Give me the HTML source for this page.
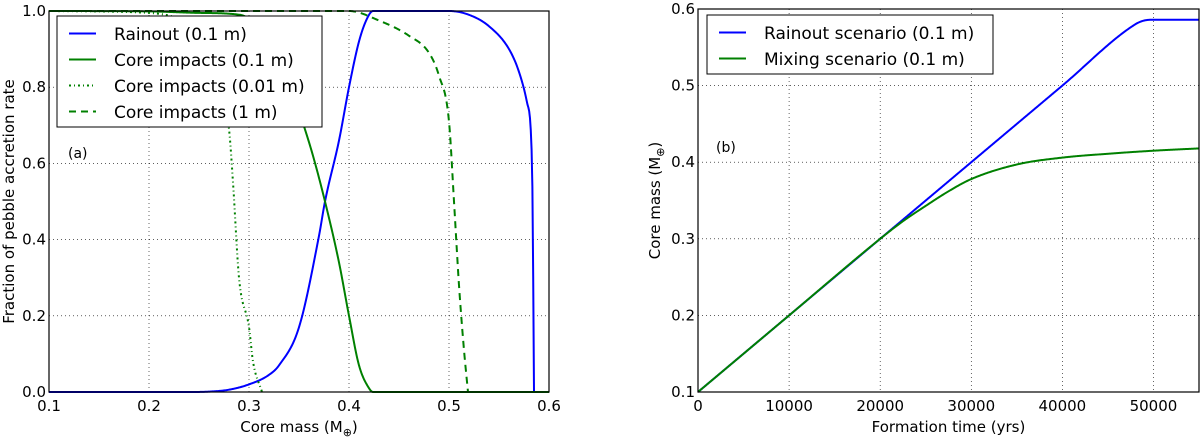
<!DOCTYPE html>
<html><head><meta charset="utf-8"><style>
body{margin:0;background:#fff;}
svg{display:block;font-family:"DejaVu Sans","Liberation Sans",sans-serif;}
</style></head><body>
<svg id="c" width="1200" height="440" viewBox="0 0 1200 440" xmlns="http://www.w3.org/2000/svg"></svg>
<script>
// ---- Panel (a) data ----
const aXTicks=[0.1,0.2,0.3,0.4,0.5,0.6];
const aYTicks=[0.0,0.2,0.4,0.6,0.8,1.0];
const rainX=[0.1,0.24,0.26,0.28,0.3,0.32,0.33,0.35,0.37,0.376,0.39,0.4,0.41,0.418,0.424,0.5,0.52,0.54,0.56,0.57,0.578,0.583,0.5845,0.585];
const rainY=[0,0,0.001,0.006,0.02,0.045,0.07,0.17,0.41,0.5,0.66,0.8,0.92,0.98,1.0,1.0,0.99,0.96,0.9,0.84,0.76,0.6,0.2,0];
const core01X=[0.1,0.2,0.25,0.291,0.31,0.33,0.34,0.35,0.364,0.376,0.39,0.4,0.41,0.42,0.424,0.6];
const core01Y=[1,0.999,0.995,0.99,0.96,0.9,0.83,0.74,0.62,0.5,0.34,0.2,0.07,0.01,0,0];
const core001X=[0.1,0.2,0.23,0.25,0.26,0.27,0.28,0.284,0.29,0.3,0.304,0.313];
const core001Y=[1,0.995,0.98,0.95,0.9,0.8,0.69,0.55,0.3,0.17,0.08,0];
const core1X=[0.1,0.4,0.43,0.46,0.48,0.49,0.5,0.505,0.51,0.515,0.519];
const core1Y=[1,1,0.975,0.935,0.89,0.83,0.71,0.5,0.28,0.11,0];
// ---- Panel (b) data ----
const bXTicks=[0,10000,20000,30000,40000,50000];
const bYTicks=[0.1,0.2,0.3,0.4,0.5,0.6];
const rainBX=[0,10000,20000,30000,40000,48000,49000,50000,51000,55000];
const rainBY=[0.1,0.2,0.3,0.4,0.5,0.58,0.585,0.586,0.586,0.586];
const mixBX=[0,10000,20000,22500,25000,27500,30000,35000,40000,45000,50000,55000];
const mixBY=[0.1,0.2,0.3,0.323,0.343,0.362,0.378,0.397,0.406,0.411,0.415,0.418];

const NS="http://www.w3.org/2000/svg";
const svg=document.getElementById('c');
function el(t,a,p){const e=document.createElementNS(NS,t);for(const k in a)e.setAttribute(k,a[k]);(p||svg).appendChild(e);return e;}

// monotone cubic interpolation (Fritsch-Carlson)
function mono(xs,ys){
  const n=xs.length,d=[],m=new Array(n);
  for(let i=0;i<n-1;i++)d.push((ys[i+1]-ys[i])/(xs[i+1]-xs[i]));
  m[0]=d[0];m[n-1]=d[n-2];
  for(let i=1;i<n-1;i++){m[i]=(d[i-1]*d[i]<=0)?0:(d[i-1]+d[i])/2;}
  for(let i=0;i<n-1;i++){if(d[i]===0){m[i]=0;m[i+1]=0;continue;}
    const a=m[i]/d[i],b=m[i+1]/d[i],s=a*a+b*b;if(s>9){const t=3/Math.sqrt(s);m[i]=t*a*d[i];m[i+1]=t*b*d[i];}}
  return x=>{let i=0;while(i<n-2&&x>xs[i+1])i++;
    const h=xs[i+1]-xs[i],t=(x-xs[i])/h,t2=t*t,t3=t2*t;
    return (2*t3-3*t2+1)*ys[i]+(t3-2*t2+t)*h*m[i]+(-2*t3+3*t2)*ys[i+1]+(t3-t2)*h*m[i+1];};
}

function panel(o){
  const g=el('g',{});
  
  
  const sx=v=>o.x0+(v-o.xmin)/(o.xmax-o.xmin)*(o.x1-o.x0);
  const sy=v=>o.y0+(v-o.ymin)/(o.ymax-o.ymin)*(o.y1-o.y0);
  o.xt.forEach(t=>{const x=sx(t);
    const l=el('line',{x1:x,x2:x,y1:o.y1,y2:o.y0,stroke:'#000','stroke-width':0.6,'stroke-dasharray':'1,3'},g);
    
    const tx=el('text',{x:x,y:o.y0+19,'font-size':15,'text-anchor':'middle'},g);tx.textContent=o.xfmt(t);
    
  });
  o.yt.forEach(t=>{const y=sy(t);
    const l=el('line',{x1:o.x0,x2:o.x1,y1:y,y2:y,stroke:'#000','stroke-width':0.6,'stroke-dasharray':'1,3'},g);
    
    const tx=el('text',{x:o.x0-3,y:y+5,'font-size':15,'text-anchor':'end'},g);tx.textContent=t.toFixed(1);
    
  });
  o.series.forEach(s=>{
    const f=mono(s.x,s.y);const pts=[];
    const xa=s.x[0],xb=s.x[s.x.length-1],N=600;
    for(let k=0;k<=N;k++){const xv=xa+(xb-xa)*k/N;pts.push([xv,f(xv)]);}
    const d=pts.map((p,i)=>(i?'L':'M')+sx(p[0]).toFixed(2)+','+sy(p[1]).toFixed(2)).join('');
    const p=el('path',{d:d,fill:'none',stroke:s.c,'stroke-width':2,'stroke-dasharray':s.dash||'none','stroke-linejoin':'round'},g);
    
  });
  const fr=el('rect',{x:o.x0,y:o.y1,width:o.x1-o.x0,height:o.y0-o.y1,fill:'none',stroke:'#000','stroke-width':1.2},g);
  
  const L=o.leg;
  const lg=el('g',{},g);
  
  el('rect',{x:L.x,y:L.y,width:L.w,height:L.h,fill:'#fff',stroke:'#000','stroke-width':1},lg);
  o.series.forEach((s,i)=>{const y=L.y+17+i*26;
    el('line',{x1:L.x+12,x2:L.x+39,y1:y+0.5,y2:y+0.5,stroke:s.c,'stroke-width':2,'stroke-dasharray':s.dash||'none'},lg);
    const t=el('text',{x:L.x+57,y:y+7,'font-size':17},lg);t.textContent=s.label;
    
  });
  const pl=el('text',{x:o.tag[0],y:o.tag[1],'font-size':14},g);pl.textContent=o.tagText;
  
  const xl=el('text',{x:(o.x0+o.x1)/2,y:o.y0+40,'font-size':15,'text-anchor':'middle'},g);
  xl.innerHTML=o.xlabel;
  const yl=el('text',{x:0,y:0,'font-size':15,'text-anchor':'middle',transform:'translate('+o.ylx+','+((o.y0+o.y1)/2)+') rotate(-90)'},g);
  yl.innerHTML=o.ylabel;
}

panel({name:'panel-a',x0:49,x1:549,y0:392,y1:11,xmin:0.1,xmax:0.6,ymin:0,ymax:1,
  xt:aXTicks,yt:aYTicks,xfmt:t=>t.toFixed(1),
  series:[
    {n:'rainout-line',x:rainX,y:rainY,c:'#0000ff',label:'Rainout (0.1 m)'},
    {n:'core-impacts-0.1m-line',x:core01X,y:core01Y,c:'#008000',label:'Core impacts (0.1 m)'},
    {n:'core-impacts-0.01m-line',x:core001X,y:core001Y,c:'#008000',dash:'2,3,1,3',label:'Core impacts (0.01 m)'},
    {n:'core-impacts-1m-line',x:core1X,y:core1Y,c:'#008000',dash:'7,5',label:'Core impacts (1 m)'}],
  leg:{x:57,y:16,w:265,h:111},tag:[68,158],tagText:'(a)',
  xlabel:'Core mass (M<tspan font-size="11" dy="4">⊕</tspan><tspan dy="-4">)</tspan>',
  ylabel:'Fraction of pebble accretion rate',ylx:14});

panel({name:'panel-b',x0:698,x1:1199,y0:392,y1:9,xmin:0,xmax:55000,ymin:0.1,ymax:0.6,
  xt:bXTicks,yt:bYTicks,xfmt:t=>String(t),
  series:[
    {n:'rainout-scenario-line',x:rainBX,y:rainBY,c:'#0000ff',label:'Rainout scenario (0.1 m)'},
    {n:'mixing-scenario-line',x:mixBX,y:mixBY,c:'#008000',label:'Mixing scenario (0.1 m)'}],
  leg:{x:707,y:15,w:286,h:59},tag:[716,152],tagText:'(b)',
  xlabel:'Formation time (yrs)',
  ylabel:'Core mass (M<tspan font-size="11" dy="4">⊕</tspan><tspan dy="-4">)</tspan>',ylx:660});
</script>
</body></html>
